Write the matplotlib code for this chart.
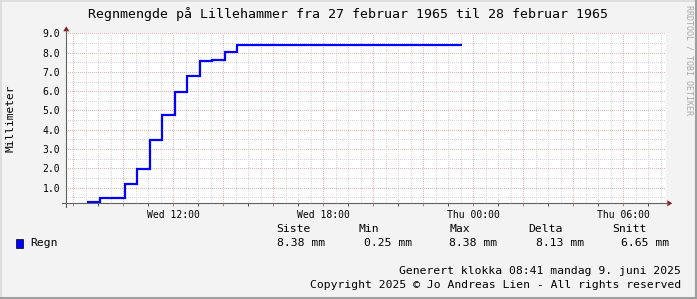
import numpy as np
import matplotlib
matplotlib.use("Agg")
import matplotlib.pyplot as plt
from matplotlib.ticker import MultipleLocator, FuncFormatter
from matplotlib.lines import Line2D
from matplotlib.patches import Rectangle, Polygon
import matplotlib.transforms as mtransforms

# ---------------- data ----------------
times = ["08:34", "09:04", "09:34", "10:04", "10:34", "11:04", "11:34", "12:04",
         "12:34", "13:04", "13:34", "14:04", "14:34", "15:04", "15:34", "16:04",
         "16:34", "17:04", "17:34", "18:04", "18:34", "19:04", "19:34", "20:04",
         "20:34", "21:04", "21:34", "22:04", "22:34", "23:04"]
rain_mm = [0.25, 0.49, 0.49, 1.20, 1.95, 3.45, 4.75, 5.98,
           6.80, 7.55, 7.60, 8.05, 8.38, 8.38, 8.38, 8.38,
           8.38, 8.38, 8.38, 8.38, 8.38, 8.38, 8.38, 8.38,
           8.38, 8.38, 8.38, 8.38, 8.38, 8.38]
tick_hours = [12, 18, 24, 30]
tick_labels = ["Wed 12:00", "Wed 18:00", "Thu 00:00", "Thu 06:00"]
stat_names = ["Siste", "Min", "Max", "Delta", "Snitt"]
series_name = "Regn"
unit = "mm"
title = "Regnmengde på Lillehammer fra 27 februar 1965 til 28 februar 1965"
ylabel = "Millimeter"
footer1 = "Generert klokka 08:41 mandag 9. juni 2025"
footer2 = "Copyright 2025 © Jo Andreas Lien - All rights reserved"
watermark = "RRDTOOL / TOBI OETIKER"
x_start, x_end = 7.72, 31.72
y_min, y_max = 0.19, 9.0

# ---------------- layout ----------------
W, H = 697, 299
MONO = "DejaVu Sans Mono"
plt.rcParams["font.family"] = [MONO]

fig = plt.figure(figsize=(W / 100, H / 100), dpi=100)
fig.patch.set_facecolor("#F3F3F3")

def fx(x):
    return x / W

def fy(y):
    return 1 - y / H

L, R, T, B = 66.3, 666.3, 33.3, 203.3
ax = fig.add_axes([L / W, 1 - B / H, (R - L) / W, (B - T) / H])
ax.set_facecolor("white")
for s in ax.spines.values():
    s.set_visible(False)

t = np.array([int(s[:2]) + int(s[3:]) / 60 for s in times])
dt = t[-1] - t[-2]
xs = np.append(t, t[-1] + dt)
ys = np.append(np.array(rain_mm), rain_mm[-1])
ax.step(xs, ys, where="post", color="#0000FF", lw=1.6, zorder=5,
        solid_joinstyle="miter", solid_capstyle="butt")

ax.set_xlim(x_start, x_end)
ax.set_ylim(y_min, y_max)

ax.xaxis.set_major_locator(MultipleLocator(2))
ax.xaxis.set_minor_locator(MultipleLocator(0.5))
ax.yaxis.set_major_locator(MultipleLocator(1))
ax.yaxis.set_minor_locator(MultipleLocator(0.5))

lab_map = dict(zip(tick_hours, tick_labels))
ax.xaxis.set_major_formatter(FuncFormatter(lambda v, p: lab_map.get(int(round(v)), "")))
ax.yaxis.set_major_formatter(FuncFormatter(lambda v, p: f"{v:.1f}"))

ax.grid(which="major", color="#EBB5B5", ls=(0, (1, 2)), lw=0.72, antialiased=False)
ax.grid(which="minor", color="#D6D6D6", ls=(0, (1, 2)), lw=0.72, antialiased=False)
ax.set_axisbelow(True)

ax.tick_params(axis="x", which="major", length=2.2, width=0.72, color="#D08080",
               direction="out", labelsize=7, pad=2.5)
ax.tick_params(axis="x", which="minor", length=0)
ax.tick_params(axis="y", which="both", length=0, labelsize=7, pad=4.3)

# odd-hour dark ticks
trans = mtransforms.blended_transform_factory(ax.transData, ax.transAxes)
odd = np.arange(np.ceil(x_start), x_end, 1)
odd = odd[odd % 2 == 1]
ax.vlines(odd, -3 / (B - T), 0, transform=trans, color="#505050", lw=0.72, clip_on=False)

# axes lines with arrows
fig.add_artist(Line2D([fx(L - 4), fx(R + 2)], [fy(B), fy(B)], color="#606060", lw=0.8))
fig.add_artist(Line2D([fx(L), fx(L)], [fy(B + 4), fy(T - 3)], color="#606060", lw=0.8))
fig.add_artist(Polygon([[fx(R + 1), fy(B - 3)], [fx(R + 1), fy(B + 3)], [fx(R + 6), fy(B)]],
                       closed=True, color="#8B1A1A", lw=0))
fig.add_artist(Polygon([[fx(L - 3), fy(T - 2)], [fx(L + 3), fy(T - 2)], [fx(L), fy(T - 7)]],
                       closed=True, color="#8B1A1A", lw=0))

# texts
fig.text(fx(348.5), fy(14), title, ha="center", va="center", fontsize=9.5)
fig.text(fx(11), fy(118), ylabel, ha="center", va="center", rotation=90, fontsize=8)
fig.text(fx(689), fy(5), watermark, ha="center", va="top", rotation=-90,
         fontsize=6, color="#A8A8A8")

# legend
fig.add_artist(Rectangle((fx(16), fy(247.5)), fx(7), 9 / H, facecolor="#0000FF",
                         edgecolor="#000000", lw=0.5))
fig.text(fx(30), fy(243.3), series_name, ha="left", va="center", fontsize=8.2)

vals = np.array(rain_mm)
stats = [vals[-1], vals.min(), vals.max(), vals.max() - vals.min(), vals.mean()]
head_x = [276, 359, 450, 528, 612]
val_x = [277, 364, 449, 536, 621]
for name, hx, v, vx in zip(stat_names, head_x, stats, val_x):
    fig.text(fx(hx), fy(229.3), name, ha="left", va="center", fontsize=8.2)
    fig.text(fx(vx), fy(243.3), f"{v:.2f} {unit}", ha="left", va="center", fontsize=8.2)

fig.text(fx(681), fy(271), footer1, ha="right", va="center", fontsize=8.2)
fig.text(fx(681), fy(285), footer2, ha="right", va="center", fontsize=8.2)

# frame
fig.add_artist(Line2D([0, 1], [fy(0.5), fy(0.5)], color="#DADADA", lw=1.2))
fig.add_artist(Line2D([fx(0.5), fx(0.5)], [0, 1], color="#DADADA", lw=1.2))
fig.add_artist(Line2D([0, 1], [fy(H - 1), fy(H - 1)], color="#9E9E9E", lw=2.2))
fig.add_artist(Line2D([fx(W - 1), fx(W - 1)], [0, 1], color="#9E9E9E", lw=2.2))

fig.savefig("out.png", dpi=100, facecolor=fig.get_facecolor())
